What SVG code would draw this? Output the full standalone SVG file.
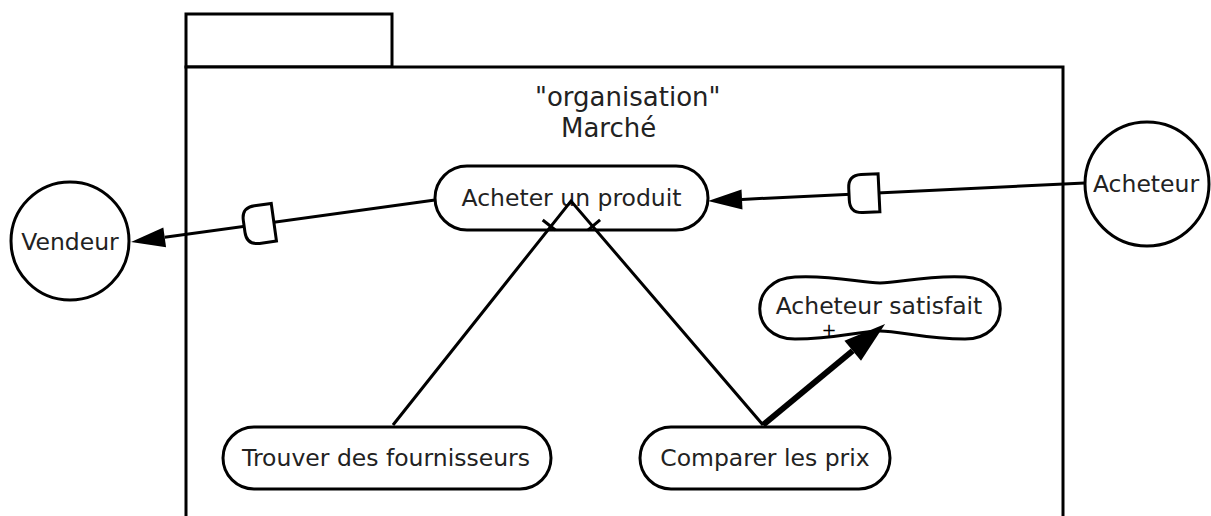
<svg xmlns="http://www.w3.org/2000/svg" width="1211" height="516" viewBox="0 0 1211 516">
<style>
  .ln { fill: none; stroke: #000; stroke-width: 3; }
  .thick { fill: none; stroke: #000; stroke-width: 6; }
  .shape { fill: #fff; stroke: #000; stroke-width: 3; }
  .lbl { font-family: "DejaVu Sans", Verdana, sans-serif; font-size: 23.5px; fill: #222; text-anchor: middle; }
  .ttl { font-family: "DejaVu Sans", Verdana, sans-serif; font-size: 26px; fill: #222; }
  .dsym { fill: #fff; stroke: #000; stroke-width: 3; }
  .plus { font-family: "DejaVu Sans", Verdana, sans-serif; font-size: 18px; fill: #000; text-anchor: middle; }
</style>
<defs>
  <marker id="arr" markerUnits="userSpaceOnUse" markerWidth="36" markerHeight="22" refX="0" refY="10" orient="auto" overflow="visible">
    <path d="M0,0 L34,10 L0,20 Z" fill="#000"/>
  </marker>
  <marker id="arrBig" markerUnits="userSpaceOnUse" markerWidth="44" markerHeight="28" refX="0" refY="13" orient="auto" overflow="visible">
    <path d="M0,0 L42,13 L0,26 Z" fill="#000"/>
  </marker>
  <path id="dshape" d="M-15,-19 L2,-19 Q15,-19 15,-6 L15,6 Q15,19 2,19 L-15,19 Z"/>
</defs>

<g id="package">
  <rect x="186" y="14" width="206" height="53" class="shape"/>
  <rect x="186" y="67" width="877" height="470" class="shape"/>
  <text class="ttl" x="535" y="106">"organisation"</text>
  <text class="ttl" x="561" y="137">Marché</text>
</g>

<g id="vendeur">
  <circle cx="70" cy="241" r="59" class="shape"/>
  <text class="lbl" x="70" y="250">Vendeur</text>
</g>

<g id="acheteur">
  <circle cx="1147" cy="184" r="62" class="shape"/>
  <text class="lbl" x="1146" y="192">Acheteur</text>
</g>

<g id="acheter-un-produit">
  <rect x="435" y="166" width="273" height="64" rx="32" ry="32" class="shape"/>
  <text class="lbl" x="571.5" y="206">Acheter un produit</text>
</g>

<g id="trouver-des-fournisseurs">
  <rect x="223" y="427" width="328" height="62" rx="31" ry="31" class="shape"/>
  <text class="lbl" x="386" y="466">Trouver des fournisseurs</text>
</g>

<g id="comparer-les-prix">
  <rect x="640" y="427" width="250" height="62" rx="31" ry="31" class="shape"/>
  <text class="lbl" x="765" y="466">Comparer les prix</text>
</g>

<g id="acheteur-satisfait">
  <path class="shape" d="M795,277 C835,275 860,283 880,283 C900,283 925,275 965,277 C1012,279 1012,339 965,339 C925,339 900,331 880,331 C860,331 835,339 795,339 C748,339 748,279 795,277 Z"/>
  <text class="lbl" x="879" y="314">Acheteur satisfait</text>
</g>

<g id="connectors">
  <!-- Acheter un produit -> Vendeur -->
  <line class="ln" x1="435" y1="200" x2="164.7" y2="237.35" marker-end="url(#arr)"/>
  <use href="#dshape" class="dsym" transform="translate(259,224.3) rotate(172.13)"/>
  <!-- Acheteur -> Acheter un produit -->
  <line class="ln" x1="1085" y1="183" x2="742" y2="199.4" marker-end="url(#arr)"/>
  <use href="#dshape" class="dsym" transform="translate(864,193.5) rotate(177.27)"/>
  <!-- decomposition -->
  <polyline class="ln" points="393,425 571,201 763,425"/>
  <line class="ln" x1="542.7" y1="220" x2="555.3" y2="230"/>
  <line class="ln" x1="587.9" y1="230.2" x2="600.1" y2="219.8"/>
  <!-- contribution -->
  <line class="thick" x1="763" y1="425" x2="852.7" y2="350.8" marker-end="url(#arrBig)"/>
  <text class="plus" x="829" y="336">+</text>
</g>
</svg>
